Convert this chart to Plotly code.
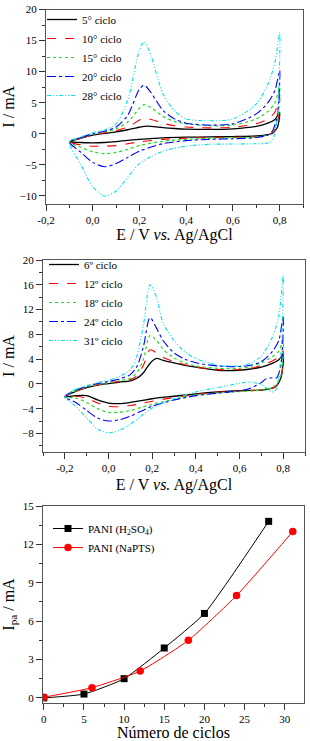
import plotly.graph_objects as go

# ---------------- Panel 1 data (CV, cycles 5..28) ----------------
P1_X_UP = [-0.1, -0.05, 0.0, 0.05, 0.1, 0.15, 0.2, 0.22, 0.25, 0.3, 0.35, 0.4, 0.5, 0.6, 0.7, 0.75, 0.78, 0.8]
P1_X_DOWN = [0.8, 0.79, 0.77, 0.75, 0.7, 0.6, 0.5, 0.4, 0.3, 0.2, 0.15, 0.1, 0.05, 0.0, -0.05, -0.1]
P1_NAMES = ["5° ciclo", "10° ciclo", "15° ciclo", "20° ciclo", "28° ciclo"]
P1_UP = [
    [-1.3, -0.7, -0.2, 0.05, 0.3, 0.65, 1.05, 1.2, 1.2, 1.0, 0.85, 0.75, 0.7, 0.8, 1.2, 1.7, 2.3, 3.4],
    [-1.3, -0.7, -0.15, 0.15, 0.5, 1.1, 2.2, 2.5, 2.3, 1.7, 1.3, 1.1, 0.95, 1.05, 1.6, 2.4, 3.5, 6.0],
    [-1.3, -0.65, -0.1, 0.3, 0.8, 1.9, 4.1, 4.7, 4.2, 2.8, 2.0, 1.6, 1.3, 1.4, 2.4, 3.6, 5.0, 7.5],
    [-1.3, -0.6, 0.0, 0.4, 1.1, 3.0, 7.2, 7.8, 6.6, 3.8, 2.4, 1.7, 1.4, 1.6, 3.2, 5.0, 7.0, 10.2],
    [-1.3, -0.5, 0.2, 0.6, 1.6, 5.5, 13.5, 14.8, 12.5, 6.5, 3.7, 2.4, 2.1, 2.4, 4.8, 8.0, 11.5, 16.3],
]
P1_DOWN = [
    [3.4, 1.0, 0.1, -0.15, -0.35, -0.45, -0.5, -0.55, -0.65, -0.9, -1.05, -1.25, -1.4, -1.45, -1.4, -1.3],
    [6.0, 1.5, 0.2, -0.2, -0.45, -0.55, -0.6, -0.7, -0.9, -1.3, -1.6, -1.9, -2.0, -2.0, -1.8, -1.3],
    [7.5, 2.0, 0.3, -0.2, -0.5, -0.65, -0.75, -0.9, -1.2, -1.9, -2.5, -3.0, -3.2, -2.9, -2.2, -1.3],
    [10.2, 3.0, 0.5, -0.2, -0.6, -0.8, -0.9, -1.1, -1.6, -2.8, -3.8, -4.8, -5.3, -4.6, -3.0, -1.3],
    [16.3, 3.0, -1.0, -1.5, -1.6, -1.65, -1.7, -2.0, -2.8, -4.8, -7.0, -9.2, -10.0, -8.5, -5.0, -1.3],
]
P1_XTICKS = [-0.2, 0.0, 0.2, 0.4, 0.6, 0.8]
P1_XTEXT = ["-0,2", "0,0", "0,2", "0,4", "0,6", "0,8"]
P1_YTICKS = [-10, -5, 0, 5, 10, 15, 20]

# ---------------- Panel 2 data (CV, cycles 6..31) ----------------
P2_X_UP = [-0.2, -0.15, -0.1, -0.05, 0.0, 0.05, 0.1, 0.13, 0.16, 0.19, 0.22, 0.25, 0.3, 0.35, 0.4, 0.5, 0.6, 0.65, 0.7, 0.75, 0.78, 0.8]
P2_X_DOWN = [0.8, 0.79, 0.77, 0.75, 0.72, 0.7, 0.65, 0.6, 0.5, 0.4, 0.3, 0.2, 0.15, 0.1, 0.05, 0.0, -0.05, -0.1, -0.15, -0.2]
P2_NAMES = ["6º ciclo", "12º ciclo", "18º ciclo", "24º ciclo", "31º ciclo"]
P2_UP = [
    [-2.1, -1.2, -0.6, -0.2, 0.05, 0.3, 0.5, 0.9, 1.8, 3.3, 4.1, 3.8, 3.4, 3.0, 2.7, 2.2, 2.2, 2.4, 2.7, 3.3, 3.9, 4.7],
    [-2.1, -1.2, -0.6, -0.15, 0.15, 0.4, 0.7, 1.3, 3.0, 5.5, 5.0, 4.3, 3.6, 3.1, 2.7, 2.3, 2.3, 2.5, 3.0, 3.7, 4.3, 5.3],
    [-2.1, -1.1, -0.5, -0.1, 0.2, 0.5, 0.9, 1.8, 4.0, 7.8, 7.0, 5.6, 4.2, 3.4, 2.9, 2.5, 2.5, 2.8, 3.4, 4.4, 5.3, 7.0],
    [-2.1, -1.0, -0.4, 0.05, 0.4, 0.8, 1.5, 2.8, 6.0, 10.7, 9.0, 7.0, 5.0, 4.0, 3.4, 2.9, 2.8, 3.0, 3.6, 5.2, 7.0, 11.0],
    [-2.1, -0.9, -0.3, 0.2, 0.6, 1.2, 2.3, 4.5, 9.5, 16.0, 14.0, 9.8, 7.0, 5.2, 4.1, 3.0, 2.9, 3.3, 4.5, 7.5, 11.0, 17.6],
]
P2_DOWN = [
    [4.7, 1.0, -0.3, -0.7, -0.9, -1.0, -1.05, -1.1, -1.3, -1.6, -2.0, -2.4, -2.7, -3.0, -3.2, -3.1, -2.6, -1.9, -1.9, -2.1],
    [5.3, 1.0, -0.3, -0.7, -0.9, -1.0, -1.1, -1.15, -1.35, -1.7, -2.2, -2.8, -3.2, -3.5, -3.7, -3.6, -3.1, -2.3, -2.0, -2.1],
    [7.0, 1.5, 0.0, -0.6, -0.9, -1.0, -1.15, -1.25, -1.5, -1.8, -2.5, -3.3, -3.8, -4.3, -4.6, -4.6, -4.0, -3.0, -2.3, -2.1],
    [11.0, 3.0, 1.0, 1.0, 0.8, 0.2, -0.7, -1.1, -1.5, -1.9, -2.6, -3.6, -4.4, -5.2, -5.8, -6.0, -5.5, -4.3, -3.0, -2.1],
    [17.6, 5.0, -0.8, -1.3, -0.6, -0.1, 0.3, 0.1, -0.6, -1.3, -2.4, -3.9, -5.2, -6.5, -7.5, -7.9, -7.3, -5.5, -3.6, -2.1],
]
P2_XTICKS = [-0.2, 0.0, 0.2, 0.4, 0.6, 0.8]
P2_XTEXT = ["-0,2", "0,0", "0,2", "0,4", "0,6", "0,8"]
P2_YTICKS = [-8, -4, 0, 4, 8, 12, 16, 20]

# ---------------- Panel 3 data (Ipa vs cycles) ----------------
H2SO4_CYCLES = [0, 5, 10, 15, 20, 28]
H2SO4_IPA = [0.0, 0.3, 1.5, 3.9, 6.6, 13.8]
NAPTS_CYCLES = [0, 6, 12, 18, 24, 31]
NAPTS_IPA = [0.05, 0.8, 2.1, 4.5, 8.0, 13.0]
P3_XTICKS = [0, 5, 10, 15, 20, 25, 30]
P3_YTICKS = [0, 3, 6, 9, 12, 15]

# ---------------- Styles ----------------
COLORS = ["#000000", "#ff0000", "#22dd22", "#0000ff", "#00e0e8"]
DASHES = ["solid", "dash", "dot", "dashdot", "4px,2px,1px,2px,1px,2px"]
WIDTHS = [1.3, 1.1, 1.2, 1.1, 1.1]
FONT = "Liberation Serif"
W, H = 310, 741


def ydom(top_px, bot_px):
    return [1 - bot_px / H, 1 - top_px / H]


fig = go.Figure()

for i in range(5):
    fig.add_trace(go.Scatter(
        x=P1_X_UP + P1_X_DOWN[1:], y=P1_UP[i] + P1_DOWN[i][1:],
        mode="lines", name=P1_NAMES[i],
        line=dict(color=COLORS[i], width=WIDTHS[i], dash=DASHES[i], shape="spline", smoothing=0.8),
        xaxis="x", yaxis="y", legend="legend"))

for i in range(5):
    fig.add_trace(go.Scatter(
        x=P2_X_UP + P2_X_DOWN[1:], y=P2_UP[i] + P2_DOWN[i][1:],
        mode="lines", name=P2_NAMES[i],
        line=dict(color=COLORS[i], width=WIDTHS[i], dash=DASHES[i], shape="spline", smoothing=0.8),
        xaxis="x2", yaxis="y2", legend="legend2"))

fig.add_trace(go.Scatter(
    x=H2SO4_CYCLES, y=H2SO4_IPA, mode="lines+markers",
    name="PANI (H<sub>2</sub>SO<sub>4</sub>)",
    line=dict(color="#000000", width=1, shape="spline", smoothing=0.5),
    marker=dict(symbol="square", size=7, color="#000000"),
    xaxis="x3", yaxis="y3", legend="legend3"))
fig.add_trace(go.Scatter(
    x=NAPTS_CYCLES, y=NAPTS_IPA, mode="lines+markers",
    name="PANI (NaPTS)",
    line=dict(color="#ff0000", width=1, shape="spline", smoothing=0.5),
    marker=dict(symbol="circle", size=7.5, color="#ff0000"),
    xaxis="x3", yaxis="y3", legend="legend3"))

axis_common = dict(
    showline=True, linecolor="#555555", linewidth=1, mirror=True,
    ticks="outside", ticklen=6, tickcolor="#333333", tickwidth=1,
    showgrid=False, zeroline=False, automargin=False,
    tickfont=dict(family=FONT, size=11, color="#000000"),
)
title_font = dict(family=FONT, size=16, color="#000000")
legend_font = dict(family=FONT, size=11, color="#000000")
MINOR = dict(ticks="outside", ticklen=3, tickcolor="#333333")

fig.update_layout(
    width=W, height=H,
    margin=dict(l=0, r=0, t=0, b=0),
    paper_bgcolor="white", plot_bgcolor="white",
    font=dict(family=FONT, color="#000000"),
    xaxis=dict(axis_common, domain=[46 / W, 303 / W], anchor="y", range=[-0.2, 0.9],
               tickvals=P1_XTICKS, ticktext=P1_XTEXT,
               minor=dict(MINOR, dtick=0.1),
               title=dict(text="E / V <i>vs.</i> Ag/AgCl", font=title_font, standoff=1)),
    yaxis=dict(axis_common, domain=ydom(9.5, 204), anchor="x", range=[-11.3, 20],
               tickvals=P1_YTICKS,
               minor=dict(MINOR, dtick=2.5),
               title=dict(text="I / mA", font=title_font, standoff=4)),
    xaxis2=dict(axis_common, domain=[43 / W, 305 / W], anchor="y2", range=[-0.3, 0.9],
                tickvals=P2_XTICKS, ticktext=P2_XTEXT,
                minor=dict(MINOR, dtick=0.1),
                title=dict(text="E / V <i>vs.</i> Ag/AgCl", font=title_font, standoff=5)),
    yaxis2=dict(axis_common, domain=ydom(260, 452), anchor="x2", range=[-11, 20],
                tickvals=P2_YTICKS,
                minor=dict(MINOR, dtick=2),
                title=dict(text="I / mA", font=title_font, standoff=6)),
    xaxis3=dict(axis_common, domain=[43 / W, 304 / W], anchor="y3", range=[-0.1, 32.4],
                tickvals=P3_XTICKS,
                minor=dict(MINOR, dtick=2.5),
                title=dict(text="Número de ciclos", font=title_font, standoff=3)),
    yaxis3=dict(axis_common, domain=ydom(506, 703), anchor="x3", range=[-0.4, 15],
                tickvals=P3_YTICKS,
                minor=dict(MINOR, dtick=1.5),
                title=dict(text="I<sub>pa</sub> / mA", font=title_font, standoff=5)),
    legend=dict(x=42 / W, y=1 - 5 / H, xanchor="left", yanchor="top",
                bgcolor="rgba(0,0,0,0)", font=legend_font, tracegroupgap=0),
    legend2=dict(x=44 / W, y=1 - 250 / H, xanchor="left", yanchor="top",
                 bgcolor="rgba(0,0,0,0)", font=legend_font, tracegroupgap=0),
    legend3=dict(x=48 / W, y=1 - 514 / H, xanchor="left", yanchor="top",
                 bgcolor="rgba(0,0,0,0)", font=legend_font, tracegroupgap=0),
)

fig.write_html(
    "out.html",
    config={"displayModeBar": False},
    post_script="document.body.style.margin='0';document.body.style.overflow='hidden';",
)
